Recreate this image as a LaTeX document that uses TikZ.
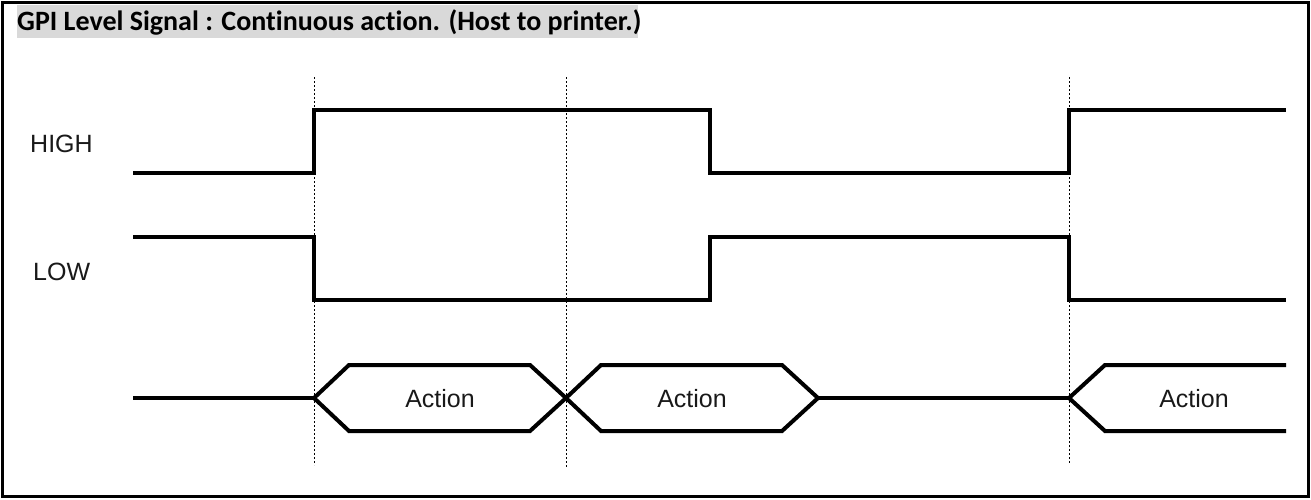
\documentclass[tikz,border=0pt]{standalone}
\usepackage{fontspec}
\setmainfont{Liberation Sans}
\newfontfamily\titlefont[Ligatures=NoCommon]{Carlito}
\begin{document}
\begin{tikzpicture}[x=1pt,y=-1pt,
  wave/.style={line width=4pt, line join=miter, line cap=butt},
  guide/.style={line width=1pt, dash pattern=on 2pt off 2pt},
  lbl/.style={inner sep=0pt, font=\fontsize{25}{30}\selectfont, text=black!90},
  titlebox/.style={fill=black!15, draw=none}]
\useasboundingbox (0,0) rectangle (1311,499);
% frame
\draw[line width=2.5pt] (2.5,2.5) rectangle (1308.5,496.5);
% title
\fill[titlebox] (17,5) rectangle (638,38);
\node[anchor=base west, inner sep=0pt, font=\titlefont\bfseries\fontsize{28}{33}\selectfont] (title) at (17,30) {GPI Level Signal : Continuous action. (Host to printer.)};
% labels
\node[lbl, anchor=base west] (high) at (30,152) {HIGH};
\node[lbl, anchor=base west] (low) at (33,280) {LOW};
% guide lines
\coordinate (g1t) at (314,77); \coordinate (g1b) at (314,465);
\coordinate (g2t) at (566,77); \coordinate (g2b) at (566,467);
\coordinate (g3t) at (1069,77); \coordinate (g3b) at (1069,463);
\draw[guide] (g1t) -- (g1b);
\draw[guide] (g2t) -- (g2b);
\draw[guide] (g3t) -- (g3b);
% HIGH waveform
\draw[wave] (133,173) -- (314,173) -- (314,110) -- (710,110) -- (710,173) -- (1069,173) -- (1069,110) -- (1286,110);
% LOW waveform
\draw[wave] (133,237) -- (314,237) -- (314,300) -- (710,300) -- (710,237) -- (1069,237) -- (1069,300) -- (1286,300);
% action waveform
\draw[wave] (133,398) -- (314,398);
\draw[wave] (314,398) -- (349,365) -- (530,365) -- (566,398) -- (530,431) -- (349,431) -- cycle;
\draw[wave] (566,398) -- (601,365) -- (782,365) -- (818,398) -- (782,431) -- (601,431) -- cycle;
\draw[wave] (818,398) -- (1069,398);
\draw[wave] (1286,365) -- (1105,365) -- (1069,398) -- (1105,431) -- (1286,431);
\node[lbl, anchor=base] (a1) at (440,407) {Action};
\node[lbl, anchor=base] (a2) at (692,407) {Action};
\node[lbl, anchor=base] (a3) at (1194,407) {Action};
\end{tikzpicture}
\end{document}
